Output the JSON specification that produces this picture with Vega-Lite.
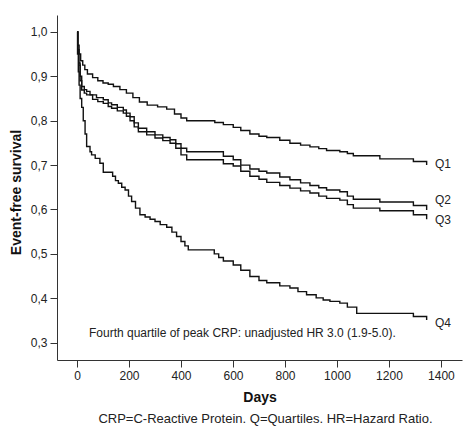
{
  "$schema": "https://vega.github.io/schema/vega-lite/v6.json",
  "width": 405,
  "height": 345,
  "autosize": {"type": "none"},
  "padding": {"left": 57, "top": 15, "right": 14, "bottom": 78},
  "background": "white",
  "config": {
    "view": {"stroke": null},
    "font": "Liberation Sans",
    "axis": {"grid": false, "domainColor": "#333", "tickColor": "#333", "labelColor": "#222", "titleColor": "#111", "labelFont": "Liberation Sans", "titleFont": "Liberation Sans", "labelFontSize": 12, "titleFontSize": 14, "titleFontWeight": "bold", "domainWidth": 1, "tickWidth": 1}
  },
  "title": {"text": "CRP=C-Reactive Protein. Q=Quartiles. HR=Hazard Ratio.", "orient": "bottom", "anchor": "middle", "fontSize": 13, "fontWeight": "normal", "font": "Liberation Sans", "color": "#222", "offset": 9, "dx": 6},
  "datasets": {
    "curves": [
      {"q": "Q1", "day": 0, "s": 1.0}, {"q": "Q1", "day": 3, "s": 0.97}, {"q": "Q1", "day": 8, "s": 0.95}, {"q": "Q1", "day": 14, "s": 0.935}, {"q": "Q1", "day": 22, "s": 0.925}, {"q": "Q1", "day": 30, "s": 0.915}, {"q": "Q1", "day": 40, "s": 0.905}, {"q": "Q1", "day": 60, "s": 0.897}, {"q": "Q1", "day": 80, "s": 0.89}, {"q": "Q1", "day": 100, "s": 0.885}, {"q": "Q1", "day": 120, "s": 0.882}, {"q": "Q1", "day": 140, "s": 0.877}, {"q": "Q1", "day": 165, "s": 0.87}, {"q": "Q1", "day": 190, "s": 0.862}, {"q": "Q1", "day": 215, "s": 0.852}, {"q": "Q1", "day": 240, "s": 0.842}, {"q": "Q1", "day": 270, "s": 0.835}, {"q": "Q1", "day": 310, "s": 0.831}, {"q": "Q1", "day": 345, "s": 0.826}, {"q": "Q1", "day": 375, "s": 0.815}, {"q": "Q1", "day": 400, "s": 0.806}, {"q": "Q1", "day": 422, "s": 0.8}, {"q": "Q1", "day": 530, "s": 0.796}, {"q": "Q1", "day": 563, "s": 0.791}, {"q": "Q1", "day": 601, "s": 0.785}, {"q": "Q1", "day": 630, "s": 0.778}, {"q": "Q1", "day": 665, "s": 0.77}, {"q": "Q1", "day": 700, "s": 0.765}, {"q": "Q1", "day": 730, "s": 0.762}, {"q": "Q1", "day": 780, "s": 0.756}, {"q": "Q1", "day": 819, "s": 0.749}, {"q": "Q1", "day": 860, "s": 0.745}, {"q": "Q1", "day": 896, "s": 0.741}, {"q": "Q1", "day": 930, "s": 0.737}, {"q": "Q1", "day": 960, "s": 0.733}, {"q": "Q1", "day": 1011, "s": 0.73}, {"q": "Q1", "day": 1040, "s": 0.726}, {"q": "Q1", "day": 1063, "s": 0.721}, {"q": "Q1", "day": 1165, "s": 0.714}, {"q": "Q1", "day": 1294, "s": 0.708}, {"q": "Q1", "day": 1345, "s": 0.7},
      {"q": "Q2", "day": 0, "s": 1.0}, {"q": "Q2", "day": 3, "s": 0.96}, {"q": "Q2", "day": 7, "s": 0.93}, {"q": "Q2", "day": 12, "s": 0.9}, {"q": "Q2", "day": 18, "s": 0.877}, {"q": "Q2", "day": 28, "s": 0.87}, {"q": "Q2", "day": 37, "s": 0.866}, {"q": "Q2", "day": 50, "s": 0.858}, {"q": "Q2", "day": 75, "s": 0.852}, {"q": "Q2", "day": 101, "s": 0.847}, {"q": "Q2", "day": 120, "s": 0.84}, {"q": "Q2", "day": 133, "s": 0.836}, {"q": "Q2", "day": 155, "s": 0.83}, {"q": "Q2", "day": 178, "s": 0.824}, {"q": "Q2", "day": 190, "s": 0.817}, {"q": "Q2", "day": 204, "s": 0.809}, {"q": "Q2", "day": 220, "s": 0.795}, {"q": "Q2", "day": 236, "s": 0.783}, {"q": "Q2", "day": 268, "s": 0.775}, {"q": "Q2", "day": 300, "s": 0.768}, {"q": "Q2", "day": 330, "s": 0.762}, {"q": "Q2", "day": 358, "s": 0.757}, {"q": "Q2", "day": 380, "s": 0.748}, {"q": "Q2", "day": 400, "s": 0.738}, {"q": "Q2", "day": 422, "s": 0.73}, {"q": "Q2", "day": 563, "s": 0.72}, {"q": "Q2", "day": 601, "s": 0.712}, {"q": "Q2", "day": 630, "s": 0.7}, {"q": "Q2", "day": 665, "s": 0.691}, {"q": "Q2", "day": 700, "s": 0.686}, {"q": "Q2", "day": 730, "s": 0.682}, {"q": "Q2", "day": 780, "s": 0.673}, {"q": "Q2", "day": 819, "s": 0.667}, {"q": "Q2", "day": 860, "s": 0.66}, {"q": "Q2", "day": 896, "s": 0.654}, {"q": "Q2", "day": 930, "s": 0.649}, {"q": "Q2", "day": 960, "s": 0.644}, {"q": "Q2", "day": 1011, "s": 0.64}, {"q": "Q2", "day": 1040, "s": 0.63}, {"q": "Q2", "day": 1063, "s": 0.623}, {"q": "Q2", "day": 1165, "s": 0.617}, {"q": "Q2", "day": 1294, "s": 0.609}, {"q": "Q2", "day": 1345, "s": 0.599},
      {"q": "Q3", "day": 0, "s": 1.0}, {"q": "Q3", "day": 3, "s": 0.96}, {"q": "Q3", "day": 7, "s": 0.925}, {"q": "Q3", "day": 12, "s": 0.89}, {"q": "Q3", "day": 18, "s": 0.869}, {"q": "Q3", "day": 28, "s": 0.862}, {"q": "Q3", "day": 37, "s": 0.858}, {"q": "Q3", "day": 60, "s": 0.848}, {"q": "Q3", "day": 80, "s": 0.843}, {"q": "Q3", "day": 101, "s": 0.839}, {"q": "Q3", "day": 120, "s": 0.832}, {"q": "Q3", "day": 133, "s": 0.828}, {"q": "Q3", "day": 155, "s": 0.822}, {"q": "Q3", "day": 178, "s": 0.817}, {"q": "Q3", "day": 190, "s": 0.81}, {"q": "Q3", "day": 204, "s": 0.8}, {"q": "Q3", "day": 220, "s": 0.786}, {"q": "Q3", "day": 236, "s": 0.775}, {"q": "Q3", "day": 268, "s": 0.768}, {"q": "Q3", "day": 300, "s": 0.761}, {"q": "Q3", "day": 330, "s": 0.755}, {"q": "Q3", "day": 358, "s": 0.749}, {"q": "Q3", "day": 380, "s": 0.738}, {"q": "Q3", "day": 400, "s": 0.723}, {"q": "Q3", "day": 422, "s": 0.712}, {"q": "Q3", "day": 563, "s": 0.703}, {"q": "Q3", "day": 601, "s": 0.698}, {"q": "Q3", "day": 630, "s": 0.686}, {"q": "Q3", "day": 665, "s": 0.675}, {"q": "Q3", "day": 700, "s": 0.668}, {"q": "Q3", "day": 730, "s": 0.661}, {"q": "Q3", "day": 780, "s": 0.654}, {"q": "Q3", "day": 819, "s": 0.648}, {"q": "Q3", "day": 860, "s": 0.642}, {"q": "Q3", "day": 896, "s": 0.637}, {"q": "Q3", "day": 930, "s": 0.63}, {"q": "Q3", "day": 960, "s": 0.625}, {"q": "Q3", "day": 1011, "s": 0.621}, {"q": "Q3", "day": 1040, "s": 0.611}, {"q": "Q3", "day": 1063, "s": 0.603}, {"q": "Q3", "day": 1165, "s": 0.597}, {"q": "Q3", "day": 1294, "s": 0.588}, {"q": "Q3", "day": 1345, "s": 0.578},
      {"q": "Q4", "day": 0, "s": 1.0}, {"q": "Q4", "day": 2, "s": 0.95}, {"q": "Q4", "day": 5, "s": 0.91}, {"q": "Q4", "day": 8, "s": 0.88}, {"q": "Q4", "day": 12, "s": 0.85}, {"q": "Q4", "day": 18, "s": 0.83}, {"q": "Q4", "day": 24, "s": 0.8}, {"q": "Q4", "day": 31, "s": 0.77}, {"q": "Q4", "day": 37, "s": 0.742}, {"q": "Q4", "day": 50, "s": 0.73}, {"q": "Q4", "day": 56, "s": 0.723}, {"q": "Q4", "day": 70, "s": 0.715}, {"q": "Q4", "day": 88, "s": 0.704}, {"q": "Q4", "day": 101, "s": 0.684}, {"q": "Q4", "day": 137, "s": 0.675}, {"q": "Q4", "day": 148, "s": 0.665}, {"q": "Q4", "day": 159, "s": 0.659}, {"q": "Q4", "day": 172, "s": 0.65}, {"q": "Q4", "day": 185, "s": 0.644}, {"q": "Q4", "day": 198, "s": 0.63}, {"q": "Q4", "day": 210, "s": 0.618}, {"q": "Q4", "day": 225, "s": 0.603}, {"q": "Q4", "day": 242, "s": 0.588}, {"q": "Q4", "day": 262, "s": 0.583}, {"q": "Q4", "day": 281, "s": 0.578}, {"q": "Q4", "day": 300, "s": 0.573}, {"q": "Q4", "day": 320, "s": 0.566}, {"q": "Q4", "day": 345, "s": 0.56}, {"q": "Q4", "day": 365, "s": 0.549}, {"q": "Q4", "day": 383, "s": 0.539}, {"q": "Q4", "day": 400, "s": 0.528}, {"q": "Q4", "day": 415, "s": 0.518}, {"q": "Q4", "day": 428, "s": 0.509}, {"q": "Q4", "day": 528, "s": 0.5}, {"q": "Q4", "day": 545, "s": 0.492}, {"q": "Q4", "day": 563, "s": 0.484}, {"q": "Q4", "day": 601, "s": 0.475}, {"q": "Q4", "day": 630, "s": 0.463}, {"q": "Q4", "day": 665, "s": 0.449}, {"q": "Q4", "day": 700, "s": 0.44}, {"q": "Q4", "day": 730, "s": 0.435}, {"q": "Q4", "day": 780, "s": 0.428}, {"q": "Q4", "day": 819, "s": 0.423}, {"q": "Q4", "day": 850, "s": 0.415}, {"q": "Q4", "day": 883, "s": 0.408}, {"q": "Q4", "day": 920, "s": 0.401}, {"q": "Q4", "day": 947, "s": 0.396}, {"q": "Q4", "day": 973, "s": 0.393}, {"q": "Q4", "day": 1011, "s": 0.389}, {"q": "Q4", "day": 1040, "s": 0.38}, {"q": "Q4", "day": 1076, "s": 0.366}, {"q": "Q4", "day": 1294, "s": 0.359}, {"q": "Q4", "day": 1345, "s": 0.351}
    ],
    "labels": [
      {"label": "Q1", "day": 1377, "s": 0.703},
      {"label": "Q2", "day": 1377, "s": 0.622},
      {"label": "Q3", "day": 1377, "s": 0.577},
      {"label": "Q4", "day": 1377, "s": 0.345}
    ],
    "note": [
      {"text": "Fourth quartile of peak CRP: unadjusted HR 3.0 (1.9-5.0).", "day": 46, "s": 0.322}
    ]
  },
  "layer": [
    {
      "data": {"name": "curves"},
      "mark": {"type": "line", "interpolate": "step-after", "color": "#111", "strokeWidth": 1.4},
      "encoding": {
        "x": {"field": "day", "type": "quantitative", "scale": {"domain": [-77, 1481], "nice": false, "zero": false},
          "axis": {"values": [0, 200, 400, 600, 800, 1000, 1200, 1400], "title": "Days", "tickSize": 7, "labelPadding": 3, "titlePadding": 9, "format": "d"}},
        "y": {"field": "s", "type": "quantitative", "scale": {"domain": [0.261, 1.038], "nice": false, "zero": false},
          "axis": {"values": [0.3, 0.4, 0.5, 0.6, 0.7, 0.8, 0.9, 1.0], "title": "Event-free survival", "tickSize": 7, "labelPadding": 3, "titlePadding": 7, "titleY": 177,
            "labelExpr": "replace(format(datum.value, '.1f'), '.', ',')"}},
        "detail": {"field": "q", "type": "nominal"}
      }
    },
    {
      "data": {"name": "labels"},
      "mark": {"type": "text", "align": "left", "baseline": "middle", "fontSize": 12, "font": "Liberation Sans", "color": "#222"},
      "encoding": {
        "x": {"field": "day", "type": "quantitative"},
        "y": {"field": "s", "type": "quantitative"},
        "text": {"field": "label"}
      }
    },
    {
      "data": {"name": "note"},
      "mark": {"type": "text", "align": "left", "baseline": "middle", "fontSize": 12, "font": "Liberation Sans", "color": "#222"},
      "encoding": {
        "x": {"field": "day", "type": "quantitative"},
        "y": {"field": "s", "type": "quantitative"},
        "text": {"field": "text"}
      }
    }
  ]
}
